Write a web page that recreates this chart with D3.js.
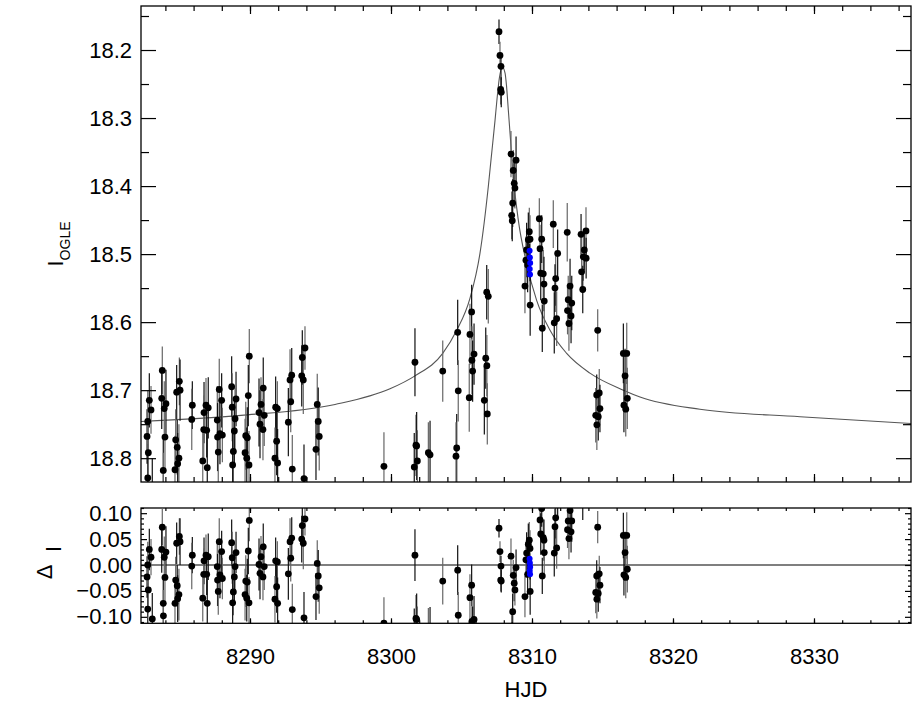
<!DOCTYPE html>
<html>
<head>
<meta charset="utf-8">
<script src="https://cdn.jsdelivr.net/npm/d3@7"></script>
<style>
  html, body { margin: 0; padding: 0; background: #fff; }
  svg { display: block; font-family: "Liberation Sans", Arial, sans-serif; }
</style>
</head>
<body>
<div id="chart"></div>
<script>
// OGLE photometry, one entry per point (grouped by night)
const hjd = [
    8282.75, 8282.79, 8282.70, 8282.75, 8282.86, 8282.98, 8283.07,
    8283.78, 8283.74, 8283.92, 8284.04, 8283.97, 8283.85, 8283.86,
    8284.80, 8284.99, 8285.04, 8284.73, 8284.84, 8284.96, 8284.87, 8284.68,
    8285.91, 8285.87,
    8286.74, 8286.88, 8287.04, 8286.72, 8286.93, 8286.65, 8286.97,
    8287.82, 8287.99, 8287.68, 8287.87, 8288.04, 8287.70, 8287.75,
    8288.70, 8288.74, 8289.01, 8288.94, 8288.89, 8288.82, 8288.77,
    8289.95, 8289.88, 8289.70, 8289.81, 8289.65, 8289.77, 8289.93,
    8290.94, 8290.78, 8290.64, 8291.01, 8290.71, 8290.92,
    8291.82, 8291.94, 8291.89, 8291.77, 8291.96,
    8292.84, 8292.96, 8292.89, 8292.72, 8293.00,
    8293.71, 8293.90, 8293.67, 8293.78, 8293.83,
    8294.77, 8294.84, 8294.91, 8294.68,
    8299.50,
    8301.70, 8301.77, 8301.82, 8301.87, 8301.65,
    8302.65, 8302.77,
    8303.67,
    8304.73, 8304.77, 8304.66, 8304.61,
    8305.72, 8305.60, 8305.89, 8305.74, 8305.79, 8305.55,
    8306.79, 8306.90, 8306.72, 8306.80, 8306.62, 8306.83,
    8307.66, 8307.73, 8307.80, 8307.78, 8307.82,
    8308.51, 8308.87, 8308.67, 8308.74, 8308.79, 8308.63, 8308.56, 8308.60,
    8309.81, 8309.74, 8309.86, 8309.62, 8309.57, 8309.69, 8309.50, 8309.87,
    8310.52, 8310.69, 8310.57, 8310.62, 8310.80, 8310.85, 8310.87, 8310.73,
    8311.51, 8311.82, 8311.68, 8311.63, 8311.75, 8311.58,
    8312.50, 8312.70, 8312.57, 8312.82, 8312.52, 8312.77, 8312.62,
    8313.48, 8313.83, 8313.71, 8313.64, 8313.84, 8313.52, 8313.60,
    8314.66,
    8314.59, 8314.77, 8314.82, 8314.52, 8314.70, 8314.60,
    8316.48, 8316.72, 8316.60, 8316.76, 8316.52, 8316.65
];
const mag = [
    18.829, 18.792, 18.768, 18.746, 18.715, 18.729, 18.850,
    18.671, 18.712, 18.727, 18.720, 18.769, 18.818, 18.842,
    18.703, 18.687, 18.700, 18.773, 18.784, 18.800, 18.808, 18.817,
    18.722, 18.743,
    18.733, 18.722, 18.726, 18.758, 18.759, 18.804, 18.814,
    18.699, 18.715, 18.744, 18.764, 18.766, 18.769, 18.791,
    18.695, 18.725, 18.713, 18.742, 18.760, 18.790, 18.810,
    18.650, 18.708, 18.767, 18.770, 18.792, 18.800, 18.810,
    18.697, 18.721, 18.733, 18.737, 18.750, 18.758,
    18.725, 18.727, 18.775, 18.800, 18.807,
    18.685, 18.678, 18.717, 18.747, 18.816,
    18.652, 18.638, 18.679, 18.685, 18.830,
    18.721, 18.746, 18.768, 18.787,
    18.812,
    18.659, 18.781, 18.782, 18.804, 18.813,
    18.792, 18.795,
    18.672,
    18.615, 18.701, 18.785, 18.797,
    18.585, 18.618, 18.647, 18.656, 18.672, 18.711,
    18.556, 18.562, 18.653, 18.664, 18.715, 18.735,
    18.173, 18.208, 18.224, 18.258, 18.262,
    18.353, 18.362, 18.377, 18.396, 18.403, 18.425, 18.443, 18.451,
    18.467, 18.479, 18.478, 18.494, 18.509, 18.516, 18.547, 18.575,
    18.448, 18.478, 18.492, 18.528, 18.529, 18.544, 18.569, 18.609,
    18.456, 18.499, 18.536, 18.550, 18.595, 18.601,
    18.468, 18.547, 18.567, 18.572, 18.583, 18.591, 18.602,
    18.471, 18.466, 18.494, 18.504, 18.506, 18.526, 18.552,
    18.612,
    18.707, 18.704, 18.727, 18.737, 18.739, 18.751,
    18.646, 18.646, 18.679, 18.712, 18.722, 18.728
];
const magErr = [
    0.050, 0.045, 0.040, 0.045, 0.040, 0.035, 0.050,
    0.035, 0.045, 0.040, 0.050, 0.045, 0.050, 0.050,
    0.040, 0.035, 0.045, 0.045, 0.040, 0.050, 0.045, 0.050,
    0.035, 0.045,
    0.045, 0.040, 0.045, 0.050, 0.040, 0.045, 0.050,
    0.045, 0.040, 0.050, 0.045, 0.040, 0.050, 0.045,
    0.045, 0.050, 0.040, 0.045, 0.050, 0.045, 0.050,
    0.040, 0.045, 0.050, 0.045, 0.050, 0.045, 0.050,
    0.045, 0.040, 0.050, 0.045, 0.050, 0.045,
    0.045, 0.040, 0.050, 0.045, 0.050,
    0.045, 0.040, 0.045, 0.050, 0.050,
    0.040, 0.032, 0.045, 0.050, 0.050,
    0.045, 0.050, 0.050, 0.045,
    0.050,
    0.050, 0.045, 0.050, 0.045, 0.050,
    0.045, 0.050,
    0.045,
    0.048, 0.045, 0.050, 0.050,
    0.040, 0.045, 0.045, 0.050, 0.045, 0.050,
    0.040, 0.040, 0.045, 0.045, 0.050, 0.045,
    0.018, 0.020, 0.020, 0.022, 0.022,
    0.034, 0.035, 0.030, 0.035, 0.030, 0.035, 0.035, 0.030,
    0.035, 0.040, 0.035, 0.040, 0.035, 0.040, 0.040, 0.045,
    0.030, 0.035, 0.035, 0.040, 0.035, 0.040, 0.040, 0.035,
    0.035, 0.035, 0.040, 0.035, 0.040, 0.045,
    0.043, 0.040, 0.035, 0.040, 0.035, 0.040, 0.040,
    0.030, 0.035, 0.030, 0.035, 0.030, 0.030, 0.035,
    0.031,
    0.030, 0.035, 0.035, 0.040, 0.035, 0.037,
    0.044, 0.045, 0.040, 0.045, 0.040, 0.040
];
// residuals (model - data), as plotted in the lower panel
const resid = [
    -0.085, -0.048, -0.023, 0.000, 0.030, 0.015, -0.104,
    0.073, 0.030, 0.015, 0.025, -0.024, -0.074, -0.098,
    0.042, 0.055, 0.045, -0.029, -0.040, -0.057, -0.065, -0.074,
    0.019, -0.002,
    0.008, 0.019, 0.016, -0.018, -0.018, -0.064, -0.074,
    0.045, 0.026, -0.003, -0.019, -0.026, -0.029, -0.051,
    0.043, 0.014, 0.024, -0.003, -0.023, -0.052, -0.073,
    0.086, 0.027, -0.031, -0.033, -0.057, -0.064, -0.073,
    0.035, 0.016, 0.001, -0.003, -0.016, -0.023,
    0.008, 0.006, -0.042, -0.066, -0.074,
    0.045, 0.052, 0.013, -0.017, -0.086,
    0.076, 0.089, 0.050, 0.042, -0.102,
    0.003, -0.021, -0.044, -0.061,
    -0.112,
    0.019, -0.103, -0.105, -0.125, -0.134,
    -0.128, -0.131,
    -0.031,
    -0.010, -0.097, -0.180, -0.192,
    -0.039, -0.063, -0.105, -0.109, -0.125, -0.160,
    -0.176, -0.180, -0.270, -0.280, -0.330, -0.350,
    0.071, 0.026, -0.002, -0.029, -0.031,
    0.017, -0.005, -0.020, -0.035, -0.048, -0.090, -0.125, -0.140,
    0.048, 0.040, 0.032, 0.023, 0.010, -0.018, -0.061, -0.051,
    0.140, 0.109, 0.087, 0.060, 0.053, 0.048, 0.024, -0.021,
    0.170, 0.125, 0.091, 0.074, 0.033, 0.023,
    0.180, 0.105, 0.085, 0.085, 0.068, 0.064, 0.051,
    0.200, 0.210, 0.180, 0.170, 0.168, 0.148, 0.122,
    0.073,
    -0.021, -0.017, -0.039, -0.053, -0.055, -0.066,
    0.057, 0.057, 0.024, -0.008, -0.019, -0.024
];

// second data set (blue)
const hjdBlue = [8309.83, 8309.85, 8309.87, 8309.84, 8309.86];
const magBlue = [18.495, 18.505, 18.513, 18.522, 18.530];
const errBlue = [0.010, 0.010, 0.010, 0.010, 0.010];
const residBlue = [0.012, 0.004, -0.004, -0.011, -0.018];

// model light curve
const modelHjd = [
    8282.27, 8289.36, 8296.03, 8299.93, 8301.70, 8303.67, 8304.66, 8305.60,
    8306.31, 8306.90, 8307.10, 8307.38, 8307.52, 8307.68, 8307.89, 8308.09,
    8308.19, 8308.32, 8308.47, 8308.63, 8309.03, 8309.62, 8310.33, 8311.28,
    8312.46, 8314.11, 8316.48, 8317.66, 8321.91, 8329.01, 8336.88
];
const modelMag = [
    18.746, 18.737, 18.721, 18.698, 18.679, 18.646, 18.612, 18.565,
    18.499, 18.401, 18.360, 18.303, 18.272, 18.242, 18.2245, 18.234,
    18.252, 18.288, 18.330, 18.376, 18.450, 18.514, 18.568, 18.612,
    18.646, 18.675, 18.700, 18.710, 18.728, 18.739, 18.749
];

const magTicks = [18.2, 18.3, 18.4, 18.5, 18.6, 18.7, 18.8];
const residTicks = [-0.10, -0.05, 0.00, 0.05, 0.10];
const hjdTicks = [8290, 8300, 8310, 8320, 8330];

const width = 916;
const height = 702;
const left = 141, right = 911;
const top1 = 6, bot1 = 482;
const top2 = 508, bot2 = 623.3;
const font = '"Liberation Sans", Arial, sans-serif';

const svg = d3.select('#chart')
    .append('svg')
    .attr('width', width)
    .attr('height', height)
    .attr('viewBox', [0, 0, width, height]);

const x = d3.scaleLinear().domain([8282.27, 8336.88]).range([left, right]);
const y = d3.scaleLinear().domain([18.1353, 18.835]).range([top1, bot1]);
const yr = d3.scaleLinear().domain([-0.1125, 0.110]).range([bot2, top2]);

const defs = svg.append('defs');
defs.append('clipPath').attr('id', 'clipTop')
    .append('rect').attr('x', left).attr('y', top1)
    .attr('width', right - left).attr('height', bot1 - top1);
defs.append('clipPath').attr('id', 'clipBot')
    .append('rect').attr('x', left).attr('y', top2)
    .attr('width', right - left).attr('height', bot2 - top2);

const points = hjd.map((t, i) => ({ t, m: mag[i], e: magErr[i], r: resid[i] }));
const bluePoints = hjdBlue.map((t, i) => ({ t, m: magBlue[i], e: errBlue[i], r: residBlue[i] }));

// ticks on all four sides, pointing inward
const styleAxis = (g) => {
    g.select('.domain').remove();
    g.selectAll('line').attr('stroke', '#000').attr('stroke-width', 1.2);
    g.selectAll('text')
        .attr('fill', '#000')
        .style('font-family', font)
        .style('font-size', '22px');
};

const drawFrame = (yTop, yBot, yScale, yMajor, yMinor, opts) => {
    const gx = [
        { fn: d3.axisBottom, pos: yBot },
        { fn: d3.axisTop, pos: yTop }
    ];
    gx.forEach(({ fn, pos }, k) => {
        svg.append('g')
            .attr('transform', `translate(0,${pos})`)
            .call(fn(x).tickValues(d3.range(8284, 8337, 2)).tickSize(-opts.xMinor).tickFormat(''))
            .call(styleAxis);
        svg.append('g')
            .attr('transform', `translate(0,${pos})`)
            .call(fn(x).tickValues(hjdTicks).tickSize(-opts.xMajor)
                .tickPadding(opts.xPad)
                .tickFormat(k === 0 && opts.xLabels ? d3.format('d') : ''))
            .call(styleAxis);
    });

    const gy = [
        { fn: d3.axisLeft, pos: left },
        { fn: d3.axisRight, pos: right }
    ];
    gy.forEach(({ fn, pos }, k) => {
        svg.append('g')
            .attr('transform', `translate(${pos},0)`)
            .call(fn(yScale).tickValues(yMinor).tickSize(-opts.yMinorLen).tickFormat(''))
            .call(styleAxis);
        svg.append('g')
            .attr('transform', `translate(${pos},0)`)
            .call(fn(yScale).tickValues(yMajor).tickSize(-opts.yMajorLen)
                .tickPadding(9)
                .tickFormat(k === 0 ? opts.yFormat : ''))
            .call(styleAxis);
    });

    svg.append('rect')
        .attr('x', left).attr('y', yTop)
        .attr('width', right - left).attr('height', yBot - yTop)
        .attr('fill', 'none')
        .attr('stroke', '#000')
        .attr('stroke-width', 1.3);
};

// ---- upper panel: light curve ----
const topPlot = svg.append('g').attr('clip-path', 'url(#clipTop)');

topPlot.append('path')
    .datum(modelHjd.map((t, i) => [t, modelMag[i]]))
    .attr('fill', 'none')
    .attr('stroke', '#555')
    .attr('stroke-width', 1.1)
    .attr('d', d3.line().x((d) => x(d[0])).y((d) => y(d[1])).curve(d3.curveMonotoneX));

const drawSet = (g, data, yScale, valKey, color, barColor, r) => {
    g.append('g')
        .selectAll('line')
        .data(data)
        .join('line')
        .attr('x1', (d) => x(d.t))
        .attr('x2', (d) => x(d.t))
        .attr('y1', (d) => yScale(d[valKey] - d.e))
        .attr('y2', (d) => yScale(d[valKey] + d.e))
        .attr('stroke', (d, i) => (i % 2 ? barColor : '#111'))
        .attr('stroke-width', 1.2);
    g.append('g')
        .selectAll('circle')
        .data(data)
        .join('circle')
        .attr('cx', (d) => x(d.t))
        .attr('cy', (d) => yScale(d[valKey]))
        .attr('r', r)
        .attr('fill', color);
};

drawSet(topPlot, points, y, 'm', '#000', '#666', 3.4);
drawSet(topPlot, bluePoints, y, 'm', '#0000ff', '#0000ff', 3.0);

drawFrame(top1, bot1, y,
    magTicks, d3.range(18.15, 18.84, 0.1).map((v) => +v.toFixed(2)),
    { xMajor: 8, xMinor: 5, xPad: 0, xLabels: false, yMajorLen: 15, yMinorLen: 8, yFormat: d3.format('.1f') });

// ---- lower panel: residuals ----
const botPlot = svg.append('g').attr('clip-path', 'url(#clipBot)');

botPlot.append('line')
    .attr('x1', left).attr('x2', right)
    .attr('y1', yr(0)).attr('y2', yr(0))
    .attr('stroke', '#000')
    .attr('stroke-width', 1.2);

drawSet(botPlot, points, yr, 'r', '#000', '#666', 3.4);
drawSet(botPlot, bluePoints, yr, 'r', '#0000ff', '#0000ff', 3.0);

drawFrame(top2, bot2, yr,
    residTicks, d3.range(-11, 12).map((v) => v / 100).filter((v) => Math.round(v * 100) % 5 !== 0),
    { xMajor: 5, xMinor: 3, xPad: 25, xLabels: true, yMajorLen: 6, yMinorLen: 3, yFormat: d3.format('.2f') });

// ---- axis titles ----
svg.append('text')
    .attr('x', (left + right) / 2)
    .attr('y', 697)
    .attr('text-anchor', 'middle')
    .style('font-family', font)
    .style('font-size', '22px')
    .text('HJD');

const yTitle = svg.append('text')
    .attr('transform', `translate(63,${(top1 + bot1) / 2}) rotate(-90)`)
    .attr('text-anchor', 'middle')
    .style('font-family', font)
    .style('font-size', '22px');
yTitle.append('tspan').text('I');
yTitle.append('tspan').attr('dy', 7).style('font-size', '14px').text('OGLE');

// residual axis title: "I" above, delta below and to the left
svg.append('text')
    .attr('transform', 'translate(61,549) rotate(-90)')
    .attr('text-anchor', 'middle')
    .style('font-family', font)
    .style('font-size', '22px')
    .text('I');
svg.append('text')
    .attr('transform', 'translate(52,572) rotate(-90)')
    .attr('text-anchor', 'middle')
    .style('font-family', font)
    .style('font-size', '22px')
    .text('Δ');
</script>
</body>
</html>
